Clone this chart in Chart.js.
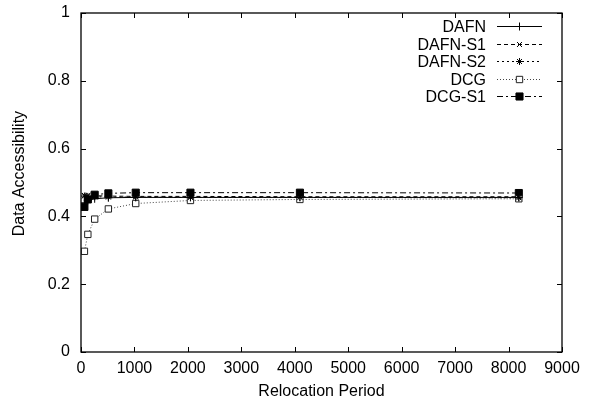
<!DOCTYPE html>
<html>
<head>
<meta charset="utf-8">
<script src="https://cdn.jsdelivr.net/npm/chart.js@4/dist/chart.umd.min.js"></script>
<style>
  html, body { margin: 0; padding: 0; background: #fff; }
  #wrap { width: 599px; height: 406px; }
</style>
</head>
<body>
<div id="wrap"><canvas id="accessChart" width="599" height="406"></canvas></div>
<script>
// relocation periods on the x axis
var periods = [64, 128, 256, 512, 1024, 2048, 4096, 8192]

var dafn   = [0.440, 0.447, 0.452, 0.455, 0.456, 0.456, 0.456, 0.456]
var dafnS1 = [0.462, 0.462, 0.461, 0.460, 0.459, 0.459, 0.458, 0.458]
var dafnS2 = [0.460, 0.459, 0.458, 0.457, 0.457, 0.456, 0.456, 0.455]
var dcg    = [0.297, 0.347, 0.392, 0.422, 0.438, 0.447, 0.450, 0.452]
var dcgS1  = [0.428, 0.450, 0.464, 0.468, 0.470, 0.470, 0.470, 0.469]

var xTicks = [0, 1000, 2000, 3000, 4000, 5000, 6000, 7000, 8000, 9000]
var yTicks = [0, 0.2, 0.4, 0.6, 0.8, 1]

var FONT = '"Liberation Sans", Arial, Helvetica, sans-serif'

function pointsFrom(values) {
  return values.map(function (v, i) { return { x: periods[i], y: v } })
}

function series(label, values, style) {
  return Object.assign({
    label: label,
    data: pointsFrom(values),
    borderColor: '#000',
    backgroundColor: '#000',
    pointBorderColor: '#000',
    borderWidth: 1,
    pointBorderWidth: 1,
    pointRadius: 4,
    tension: 0,
    fill: false
  }, style)
}

// gnuplot style ticks: pointing inward, mirrored on top and right
var innerTicks = {
  id: 'innerTicks',
  afterDraw: function (chart) {
    var ctx = chart.ctx, a = chart.chartArea
    var xs = chart.scales.x, ys = chart.scales.y
    ctx.save()
    ctx.strokeStyle = '#000'
    ctx.lineWidth = 1
    ctx.beginPath()
    xTicks.forEach(function (t) {
      var px = Math.round(xs.getPixelForValue(t)) + 0.5
      ctx.moveTo(px, a.bottom); ctx.lineTo(px, a.bottom - 5)
      ctx.moveTo(px, a.top); ctx.lineTo(px, a.top + 5)
    })
    yTicks.forEach(function (t) {
      var py = Math.round(ys.getPixelForValue(t)) + 0.5
      ctx.moveTo(a.left, py); ctx.lineTo(a.left + 5, py)
      ctx.moveTo(a.right, py); ctx.lineTo(a.right - 5, py)
    })
    ctx.stroke()
    ctx.lineWidth = 1.3
    ctx.strokeRect(a.left, a.top, a.right - a.left, a.bottom - a.top)
    ctx.restore()
  }
}

// key drawn like gnuplot's: label right aligned, then line sample with marker
var keyBox = {
  id: 'keyBox',
  afterDraw: function (chart) {
    var c = chart.ctx
    var textRight = 486, x0 = 497, x1 = 542, y0 = 26, step = 17.6
    c.save()
    chart.data.datasets.forEach(function (ds, i) {
      var y = Math.round(y0 + i * step) + 0.5
      c.fillStyle = '#000'
      c.font = '16px ' + FONT
      c.textAlign = 'right'
      c.textBaseline = 'middle'
      c.fillText(ds.label, textRight, y + 1)
      c.strokeStyle = ds.borderColor
      c.lineWidth = 1
      c.setLineDash(ds.borderDash || [])
      c.beginPath()
      c.moveTo(x0, y)
      c.lineTo(x1, y)
      c.stroke()
      c.setLineDash([])
      c.fillStyle = ds.backgroundColor
      c.strokeStyle = ds.pointBorderColor
      Chart.helpers.drawPoint(c, { pointStyle: ds.pointStyle, radius: ds.pointRadius, borderWidth: 1 }, (x0 + x1) / 2, y)
    })
    c.restore()
  }
}

var ctx = document.getElementById('accessChart').getContext('2d')
var chart = new Chart(ctx, {
  type: 'line',
  data: {
    datasets: [
      series('DAFN', dafn, { pointStyle: 'cross', pointRadius: 4 }),
      series('DAFN-S1', dafnS1, { pointStyle: 'crossRot', pointRadius: 3.5, borderDash: [4, 3] }),
      series('DAFN-S2', dafnS2, { pointStyle: 'star', pointRadius: 3.5, borderDash: [2, 3] }),
      series('DCG', dcg, { pointStyle: 'rect', pointRadius: 4.5, backgroundColor: '#fff', borderColor: '#444', pointBorderColor: '#222', borderDash: [1, 2] }),
      series('DCG-S1', dcgS1, { pointStyle: 'rect', pointRadius: 5, borderDash: [6, 3, 2, 3] })
    ]
  },
  options: {
    responsive: false,
    animation: false,
    layout: { padding: { top: 13, right: 37, left: 0, bottom: 0 } },
    plugins: { legend: { display: false }, tooltip: { enabled: false } },
    scales: {
      x: {
        type: 'linear',
        min: 0,
        max: 9000,
        afterBuildTicks: function (s) { s.ticks = xTicks.map(function (v) { return { value: v } }) },
        afterFit: function (s) { s.height = 54 },
        grid: { display: false, drawTicks: false },
        border: { display: false },
        ticks: {
          color: '#000', font: { family: FONT, size: 16 }, padding: 7, maxRotation: 0,
          callback: function (v) { return String(v) }
        },
        title: { display: true, text: 'Relocation Period', color: '#000', font: { family: FONT, size: 16 }, padding: { top: 0, bottom: 5 } }
      },
      y: {
        type: 'linear',
        min: 0,
        max: 1,
        afterBuildTicks: function (s) { s.ticks = yTicks.map(function (v) { return { value: v } }) },
        afterFit: function (s) { s.width = 81; s.paddingTop = 0; s.paddingBottom = 0 },
        grid: { display: false, drawTicks: false },
        border: { display: false },
        ticks: {
          color: '#000', font: { family: FONT, size: 16 }, padding: 11,
          callback: function (v) { return String(v) }
        },
        title: { display: true, text: '    Data Accessibility', color: '#000', font: { family: FONT, size: 16 }, padding: { top: 10, bottom: 0 } }
      }
    }
  },
  plugins: [innerTicks, keyBox]
})
</script>
</body>
</html>
